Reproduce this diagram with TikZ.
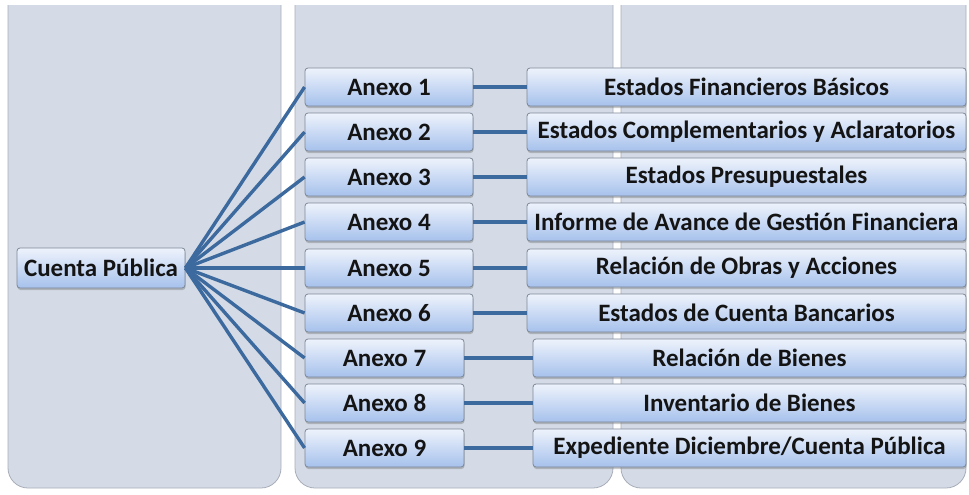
\documentclass[tikz,border=0pt]{standalone}
\usepackage{fontspec}
\setmainfont{Carlito}
\usetikzlibrary{shadows}
\definecolor{colbg}{HTML}{D4DBE7}
\definecolor{coledge}{HTML}{A8AEB8}
\definecolor{boxtop}{HTML}{EEF3FC}
\definecolor{boxbot}{HTML}{A6C1EC}
\definecolor{boxedge}{HTML}{7D8896}
\definecolor{link}{HTML}{3D6A9E}
\definecolor{txt}{HTML}{141414}
\tikzset{
  colpanel/.style={fill=colbg, draw=coledge, line width=0.8pt, rounded corners=20pt},
  box/.style={draw=boxedge, line width=0.8pt, rounded corners=3pt,
    top color=boxtop, bottom color=boxbot, text=txt,
    font=\fontsize{25}{27}\selectfont\bfseries, inner sep=0pt,
    drop shadow={shadow xshift=0.5pt, shadow yshift=-2pt, opacity=0.35, fill=black!60}},
  anexo/.style={box, minimum width=168pt, minimum height=38pt},
  anexob/.style={box, minimum width=159pt, minimum height=38pt},
  doc/.style={box, minimum width=439pt, minimum height=38pt},
  docb/.style={box, minimum width=433pt, minimum height=38pt},
  conn/.style={draw=link, line width=3.4pt},
}
\begin{document}
\begin{tikzpicture}[x=1pt,y=-1pt]
\useasboundingbox (0,0) rectangle (969,495);
\fill[white] (0,0) rectangle (969,495);
% column panels
\draw[colpanel] (8,-40) rectangle (281,488);
\draw[colpanel] (295,-40) rectangle (613,488);
\draw[colpanel] (621,-40) rectangle (966,488);
\fill[white] (0,-50) rectangle (969,5);
% nodes
\node[box, minimum width=168pt, minimum height=40pt] (cp) at (101,268) {Cuenta Pública};
\node[anexo] (a1) at (389,87) {Anexo 1};
\node[anexo] (a2) at (389,132) {Anexo 2};
\node[anexo] (a3) at (389,177) {Anexo 3};
\node[anexo] (a4) at (389,222) {Anexo 4};
\node[anexo] (a5) at (389,268) {Anexo 5};
\node[anexo] (a6) at (389,313) {Anexo 6};
\node[anexob] (a7) at (384.5,358) {Anexo 7};
\node[anexob] (a8) at (384.5,403) {Anexo 8};
\node[anexob] (a9) at (384.5,448) {Anexo 9};
\node[doc] (r1) at (746.5,87) {Estados Financieros Básicos};
\node[doc] (r2) at (746.5,132) {Estados Complementarios y Aclaratorios};
\node[doc] (r3) at (746.5,177) {Estados Presupuestales};
\node[doc] (r4) at (746.5,222) {Informe de Avance de Gestión Financiera};
\node[doc] (r5) at (746.5,268) {Relación de Obras y Acciones};
\node[doc] (r6) at (746.5,313) {Estados de Cuenta Bancarios};
\node[docb] (r7) at (749.5,358) {Relación de Bienes};
\node[docb] (r8) at (749.5,403) {Inventario de Bienes};
\node[docb] (r9) at (749.5,448) {Expediente Diciembre/Cuenta Pública};
% connectors
\foreach \i in {1,...,9} {
  \draw[conn] (cp.east) -- (a\i.west);
  \draw[conn] (a\i.east) -- (r\i.west);
}
\end{tikzpicture}
\end{document}
